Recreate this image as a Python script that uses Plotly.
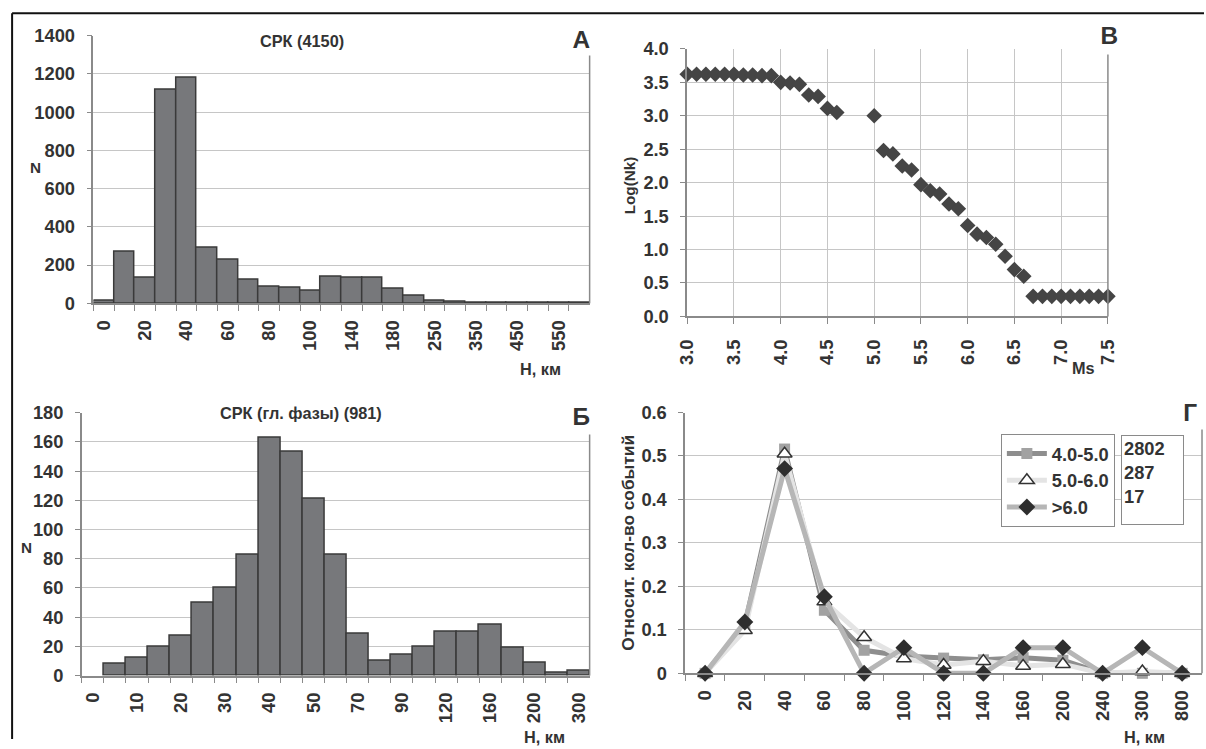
import plotly.graph_objects as go

# ---------------- data ----------------
A_depth = ["0", "10", "20", "30", "40", "50", "60", "70", "80", "90", "100", "120",
           "140", "160", "180", "200", "250", "300", "350", "400", "450", "500", "550", "600"]
A_count = [15, 268, 133, 1115, 1180, 293, 229, 126, 86, 81, 67, 138,
           132, 135, 78, 38, 12, 7, 5, 4, 4, 3, 2, 2]
A_title = "СРК (4150)"

B_ms = [3.0, 3.1, 3.2, 3.3, 3.4, 3.5, 3.6, 3.7, 3.8, 3.9, 4.0, 4.1, 4.2, 4.3, 4.4, 4.5, 4.6,
        5.0, 5.1, 5.2, 5.3, 5.4, 5.5, 5.6, 5.7, 5.8, 5.9, 6.0, 6.1, 6.2, 6.3, 6.4, 6.5, 6.6,
        6.7, 6.8, 6.9, 7.0, 7.1, 7.2, 7.3, 7.4, 7.5]
B_log = [3.62, 3.62, 3.62, 3.62, 3.62, 3.62, 3.61, 3.61, 3.60, 3.60, 3.50, 3.49, 3.47, 3.31, 3.29, 3.11, 3.05,
         3.00, 2.48, 2.43, 2.25, 2.19, 1.97, 1.88, 1.83, 1.68, 1.61, 1.36, 1.23, 1.18, 1.08, 0.90, 0.70, 0.60,
         0.30, 0.30, 0.30, 0.30, 0.30, 0.30, 0.30, 0.30, 0.30]

C_depth = ["0", "5", "10", "15", "20", "25", "30", "35", "40", "45", "50", "60",
           "70", "80", "90", "100", "120", "140", "160", "180", "200", "250", "300"]
C_count = [0, 8, 12, 20, 27, 50, 60, 83, 163, 153, 121, 83,
           29, 10, 14, 20, 30, 30, 35, 19, 9, 2, 3]
C_title = "СРК (гл. фазы) (981)"

G_depth = ["0", "20", "40", "60", "80", "100", "120", "140", "160", "200", "240", "300", "800"]
G_m45 = [0, 0.112, 0.516, 0.145, 0.053, 0.040, 0.035, 0.031, 0.036, 0.030, 0.0, 0.0, 0.0]
G_m56 = [0, 0.099, 0.505, 0.165, 0.083, 0.034, 0.019, 0.028, 0.017, 0.021, 0.0, 0.004, 0.0]
G_m6 = [0, 0.118, 0.471, 0.176, 0.0, 0.059, 0.0, 0.0, 0.059, 0.059, 0.0, 0.059, 0.0]
G_names = ["4.0-5.0", "5.0-6.0", ">6.0"]
G_counts = ["2802", "287", "17"]
G_yticks = [0, 0.1, 0.2, 0.3, 0.4, 0.5, 0.6]
G_yticktext = ["0", "0.1", "0.2", "0.3", "0.4", "0.5", "0.6"]

# ---------------- layout helpers ----------------
# The captured page keeps the body's 8px margin and is scaled to 1206x749;
# positions below are given in final picture pixels and converted here.
OFF = 8
SX, SY = 1206 / 1222, 749 / 765
W, H = 1214, 749
SF = (SX + SY) / 2


def px(x):
    return min(max((x / SX - OFF) / W, 0), 1)


def py(y):
    return min(max(1 - (y / SY - OFF) / H, 0), 1)


def fs(size):
    return round(size / SF, 1)


FAM = "Liberation Sans, Arial, sans-serif"
TXT = "#333333"
AX = "#8a8a8a"
GRID = "#c6c6c6"
BAR = "#77787b"
BAR_LINE = "#3a3a3a"
tickfont = dict(family=FAM, size=fs(18), color=TXT, weight="bold")


def every_other(labels):
    return [l if i % 2 == 0 else "" for i, l in enumerate(labels)]


def outline_widths(vals):
    return [1.5 if v > 0 else 0 for v in vals]


fig = go.Figure()

fig.add_trace(go.Bar(x=A_depth, y=A_count, xaxis="x", yaxis="y", width=1,
                     marker=dict(color=BAR, line=dict(color=BAR_LINE, width=outline_widths(A_count))),
                     showlegend=False))
fig.add_trace(go.Scatter(x=B_ms, y=B_log, xaxis="x2", yaxis="y2", mode="markers",
                         marker=dict(symbol="diamond", size=12, color="#454545"),
                         cliponaxis=False, showlegend=False))
fig.add_trace(go.Bar(x=C_depth, y=C_count, xaxis="x3", yaxis="y3", width=1,
                     marker=dict(color=BAR, line=dict(color=BAR_LINE, width=outline_widths(C_count))),
                     showlegend=False))

G_styles = [
    dict(line=dict(color="#8e8e8e", width=5),
         marker=dict(symbol="square", size=11, color="#a2a2a2")),
    dict(line=dict(color="#e4e4e4", width=5),
         marker=dict(symbol="triangle-up", size=13, color="white",
                     line=dict(color="#333333", width=1.5))),
    dict(line=dict(color="#b6b6b6", width=5),
         marker=dict(symbol="diamond", size=13, color="#2e2e2e")),
]
for name, vals, st in zip(G_names, [G_m45, G_m56, G_m6], G_styles):
    fig.add_trace(go.Scatter(x=G_depth, y=vals, xaxis="x4", yaxis="y4", name=name,
                             mode="lines+markers", cliponaxis=False, **st))

common_y = dict(showline=True, linecolor=AX, linewidth=1.5, ticks="outside", ticklen=5,
                tickcolor=AX, tickfont=tickfont, showgrid=True, gridcolor=GRID, gridwidth=1.2,
                zeroline=False, ticklabelstandoff=8)
common_x = dict(showline=True, linecolor=AX, linewidth=1.5, ticks="outside", ticklen=6,
                tickcolor=AX, tickfont=tickfont, tickangle=-90, zeroline=False,
                ticklabelstandoff=8)

fig.update_layout(
    width=W, height=H, margin=dict(l=0, r=0, t=0, b=0),
    paper_bgcolor="white", plot_bgcolor="white", bargap=0,
    font=dict(family=FAM, color=TXT),
    # A
    xaxis=dict(domain=[px(90.7), px(589)], anchor="y", type="category",
               tickvals=A_depth, ticktext=every_other(A_depth), tickson="boundaries",
               range=[-0.5, len(A_depth) - 0.5], showgrid=False, **common_x),
    yaxis=dict(domain=[py(302.3), py(32.7)], anchor="x", range=[0, 1400], dtick=200, **common_y),
    # B
    xaxis2=dict(domain=[px(687), px(1109.5)], anchor="y2", range=[3.0, 7.5], dtick=0.5,
                tickformat=".1f", showgrid=True, gridcolor=GRID, gridwidth=1.2, **common_x),
    yaxis2=dict(domain=[py(315.5), py(46)], anchor="x2", range=[0, 4], dtick=0.5,
                tickformat=".1f", **common_y),
    # Б
    xaxis3=dict(domain=[px(79), px(589)], anchor="y3", type="category",
                tickvals=C_depth, ticktext=every_other(C_depth), tickson="boundaries",
                range=[-0.5, len(C_depth) - 0.5], showgrid=False, **common_x),
    yaxis3=dict(domain=[py(677.3), py(412.5)], anchor="x3", range=[0, 180], dtick=20, **common_y),
    # Г
    xaxis4=dict(domain=[px(685), px(1204)], anchor="y4", type="category",
                tickvals=G_depth, ticktext=G_depth, tickson="boundaries",
                range=[-0.5, len(G_depth) - 0.5], showgrid=False, **common_x),
    yaxis4=dict(domain=[py(675), py(412.3)], anchor="x4", range=[0, 0.6],
                tickvals=G_yticks, ticktext=G_yticktext, **common_y),
    legend=dict(x=px(1002), y=py(434), xanchor="left", yanchor="top",
                bordercolor="#8a8a8a", borderwidth=1, bgcolor="white",
                font=dict(family=FAM, size=fs(18), color=TXT, weight="bold"),
                tracegroupgap=0, itemwidth=40),
)

shapes = []
# outer frame (top and left)
shapes.append(dict(type="line", xref="paper", yref="paper", x0=px(9), x1=1, y0=py(10), y1=py(10),
                   line=dict(color="#111111", width=2)))
shapes.append(dict(type="line", xref="paper", yref="paper", x0=px(9), x1=px(9), y0=py(10), y1=0,
                   line=dict(color="#111111", width=2)))
# right frame lines of each panel
for xr, ytop, ybot in [(589, 50, 302.3), (1109.5, 50, 315.5), (589, 432, 677.3), (1204, 427, 675)]:
    shapes.append(dict(type="line", xref="paper", yref="paper", x0=px(xr), x1=px(xr),
                       y0=py(ybot), y1=py(ytop), line=dict(color=AX, width=1.5)))
fig.update_layout(shapes=shapes)

ann = []


def label(text, x, y, size=16, angle=0, **kw):
    ann.append(dict(text=text, x=px(x), y=py(y), xref="paper", yref="paper", showarrow=False,
                    textangle=angle, xanchor="center", yanchor="middle",
                    font=dict(family=FAM, size=fs(size), color=TXT, weight="bold"), **kw))


def boxed_letter(text, x, y, w, h):
    label(text, x, y, size=24, bgcolor="white", width=w / SX, height=h / SY, borderpad=0)


# titles
label(A_title, 300, 38, size=16, bgcolor="white", borderpad=4)
label(C_title, 299, 413, size=16, bgcolor="white", borderpad=4)
# panel letters
boxed_letter("А", 580, 37, 34, 30)
boxed_letter("В", 1111, 33, 36, 36)
boxed_letter("Б", 580, 416, 34, 34)
boxed_letter("Г", 1192, 412, 30, 32)
# axis titles
label("N", 32, 165, size=15)
label("N", 23, 548, size=15)
label("Н, км", 540, 368, size=16)
label("Н, км", 544, 739, size=16)
label("Н, км", 1146, 739, size=16)
label("Ms", 1085, 367, size=16)
label("Log(Nk)", 629, 183, size=15, angle=-90)
label("Относит. кол-во событий", 628, 543, size=17, angle=-90)
# counts box beside the legend
ann.append(dict(text="<br>".join(G_counts), x=px(1123), y=py(435), xref="paper", yref="paper",
                showarrow=False, xanchor="left", yanchor="top", align="left", valign="top",
                width=56 / SX, height=82 / SY, borderpad=2, bordercolor="#8a8a8a", borderwidth=1,
                bgcolor="white", font=dict(family=FAM, size=fs(18), color=TXT, weight="bold")))
fig.update_layout(annotations=ann)

fig.write_html("out.html")
